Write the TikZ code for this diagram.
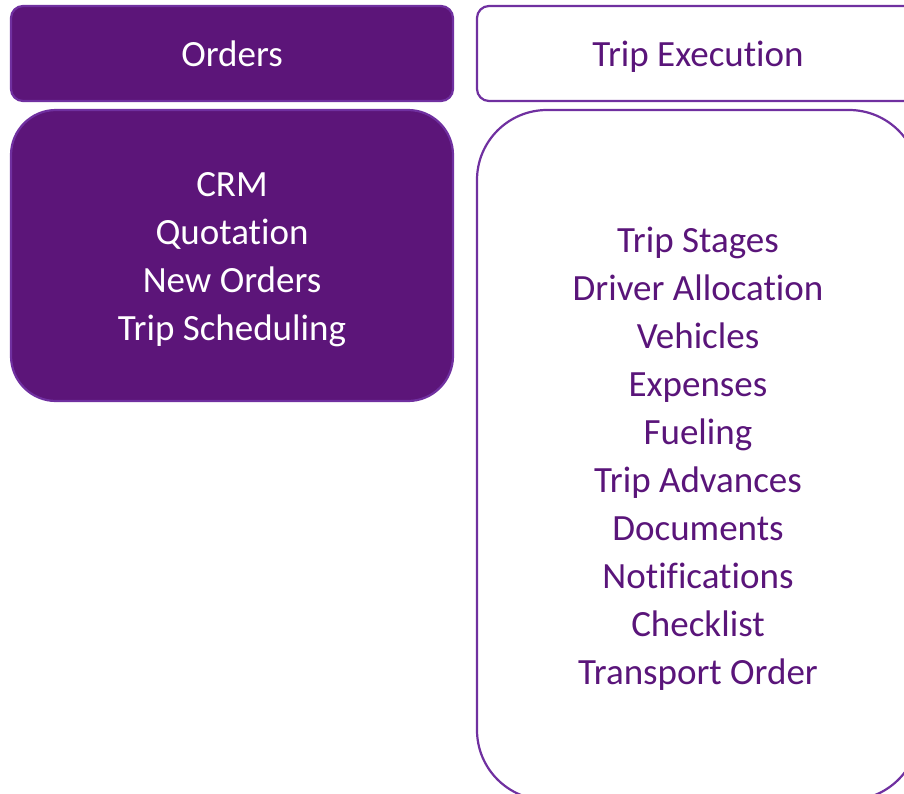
\documentclass[tikz,border=0pt]{standalone}
\usepackage{fontspec}
\setmainfont{Carlito}[RawFeature={-liga}]
\definecolor{pfill}{HTML}{5C1579}
\definecolor{pline}{HTML}{7030A0}
\definecolor{ptext}{HTML}{5A157A}
\newcommand{\boxlines}[1]{\raisebox{-3.5pt}[\height][\depth]{\begin{tabular}{@{}c@{}}#1\end{tabular}}}
\tikzset{
  box/.style={draw=pline, line width=2.2pt, anchor=center, align=center, inner sep=0pt,
    font=\fontsize{37}{48}\selectfont},
  filledbox/.style={box, fill=pfill, text=white},
  openbox/.style={box, fill=white, text=ptext},
}
\begin{document}
\begin{tikzpicture}[x=1pt,y=-1pt]
\useasboundingbox (0,0) rectangle (904,793);
\clip (0,0) rectangle (904,793);
\fill[white] (0,0) rectangle (904,793);
\node[filledbox, rounded corners=12pt, minimum width=442pt, minimum height=95pt] (orders) at (232,53.5) {\boxlines{Orders}};
\node[filledbox, rounded corners=45pt, minimum width=442pt, minimum height=291pt] (ordersbody) at (232,255.5)
  {\boxlines{CRM\\Quotation\\New Orders\\Trip Scheduling}};
\node[openbox, rounded corners=12pt, minimum width=442pt, minimum height=95pt] (trip) at (698,53.5) {\boxlines{Trip Execution}};
\node[openbox, rounded corners=70pt, minimum width=442pt, minimum height=690pt] (tripbody) at (698,455)
  {\boxlines{Trip Stages\\Driver Allocation\\Vehicles\\Expenses\\Fueling\\Trip Advances\\Documents\\Notifications\\Checklist\\Transport Order}};
\end{tikzpicture}
\end{document}
